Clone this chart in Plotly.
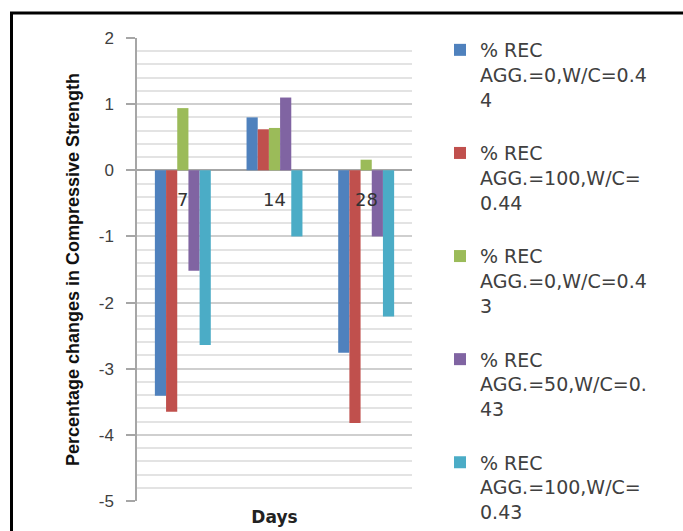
import plotly.graph_objects as go

days = ["7", "14", "28"]
series_names = [
    "% REC<br>AGG.=0,W/C=0.4<br>4",
    "% REC<br>AGG.=100,W/C=<br>0.44",
    "% REC<br>AGG.=0,W/C=0.4<br>3",
    "% REC<br>AGG.=50,W/C=0.<br>43",
    "% REC<br>AGG.=100,W/C=<br>0.43",
]
rec0_wc044 = [-3.41, 0.80, -2.76]
rec100_wc044 = [-3.65, 0.62, -3.82]
rec0_wc043 = [0.94, 0.64, 0.16]
rec50_wc043 = [-1.52, 1.10, -1.00]
rec100_wc043 = [-2.64, -1.00, -2.21]
colors = ["#4F81BD", "#C0504D", "#9BBB59", "#8064A2", "#4BACC6"]
y_ticks = [2, 1, 0, -1, -2, -3, -4, -5]

series_values = [rec0_wc044, rec100_wc044, rec0_wc043, rec50_wc043, rec100_wc043]

fig = go.Figure()
for i, (name, vals, col) in enumerate(zip(series_names, series_values, colors)):
    fig.add_trace(go.Bar(x=days, y=vals, name=name, marker_color=col,
                         marker_line_width=0, legendgroup=f"g{i}"))

# category labels sit just under the zero line (as in the Excel original);
# on a category axis the annotation x is the category's serial number
for idx, d in enumerate(days):
    fig.add_annotation(x=idx, y=0, xref="x", yref="y", text=d, showarrow=False,
                       yanchor="middle", yshift=-29,
                       font=dict(family="DejaVu Sans", size=18, color="#333333"))

W, H = 683, 531
L, R, T, B = 137, 271, 38, 30
pw, ph = W - L - R, H - T - B

def px_x(v):
    return (v - L) / pw

def px_y(v):
    return (H - B - v) / ph

fig.add_shape(type="rect", xref="paper", yref="paper",
              x0=px_x(11.5), x1=px_x(700), y0=px_y(560), y1=px_y(13),
              line=dict(color="black", width=3), fillcolor="rgba(0,0,0,0)")

fig.update_layout(
    width=W, height=H,
    margin=dict(l=L, r=R, t=T, b=B, autoexpand=False),
    paper_bgcolor="white", plot_bgcolor="white",
    barmode="group", bargap=0.39, bargroupgap=0,
    showlegend=True,
    legend=dict(x=px_x(440), xanchor="left", y=px_y(31), yanchor="top",
                font=dict(family="DejaVu Sans", size=19, color="#404040"),
                tracegroupgap=26, valign="top", bgcolor="rgba(0,0,0,0)",
                maxheight=1000),
    xaxis=dict(type="category", range=[-0.5, len(days) - 0.5],
               showticklabels=False, ticks="", showgrid=False,
               showline=False, zeroline=False,
               title=dict(text="<b>Days</b>", standoff=10,
                          font=dict(family="DejaVu Sans", size=17, color="#222222")),
               automargin=False),
    yaxis=dict(range=[-5, 2], tickvals=y_ticks, ticktext=[str(v) for v in y_ticks],
               showgrid=True, gridcolor="#cfcfcf", gridwidth=1.5,
               minor=dict(dtick=0.2, tick0=0, showgrid=True, gridcolor="#e3e3e3",
                          gridwidth=1.5),
               zeroline=True, zerolinecolor="#a6a6a6", zerolinewidth=1.5,
               showline=True, linecolor="#a6a6a6", linewidth=1.5,
               ticks="outside", ticklen=9, tickcolor="#a6a6a6", tickwidth=1.5,
               ticklabelstandoff=9,
               tickfont=dict(family="Liberation Sans", size=17, color="#404040"),
               title=dict(text="<b>Percentage changes in Compressive Strength</b>",
                          standoff=14,
                          font=dict(family="Liberation Sans Narrow, Liberation Sans",
                                    size=18, color="#111111")),
               automargin=False),
)

fig.write_html("out.html")
